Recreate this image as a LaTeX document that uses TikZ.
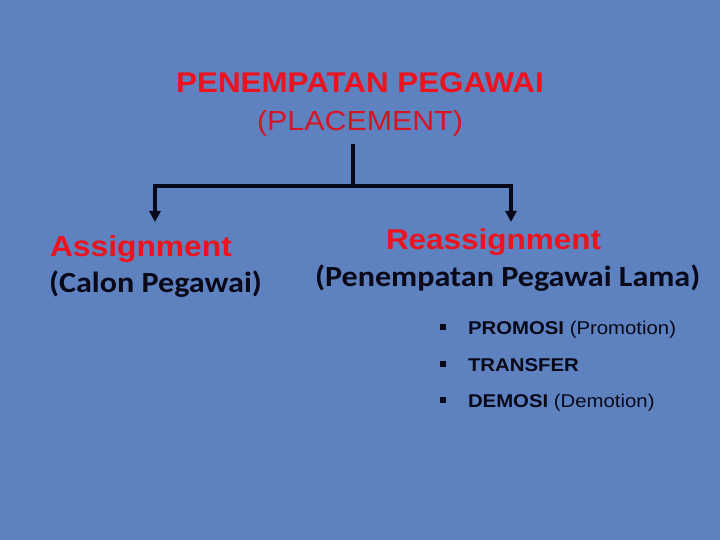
\documentclass[tikz,border=0pt]{standalone}
\usepackage{fontspec}
\usepackage{graphicx}
\setmainfont{Liberation Sans}
\newfontfamily\calibri{Carlito}
\usetikzlibrary{arrows.meta}
\definecolor{bgblue}{RGB}{94,130,192}
\definecolor{titlered}{RGB}{236,18,30}
\definecolor{ink}{RGB}{8,8,24}
\newcommand\sx[1]{\scalebox{1.1}[1]{#1}}
\tikzset{
  txt/.style={inner sep=0pt, outer sep=0pt},
  redbig/.style={txt, text=titlered, font=\fontsize{28}{32}\selectfont\bfseries},
  blackbig/.style={txt, text=ink, font=\calibri\fontsize{29.2}{33}\selectfont\bfseries},
  item/.style={txt, text=ink, font=\fontsize{18.5}{22}\selectfont},
  bul/.style={fill=ink, minimum size=5.5pt, inner sep=0pt, outer sep=0pt},
  conn/.style={line width=3.5pt, draw=ink},
  arr/.style={conn, -{Triangle[length=11pt,width=11pt]}}
}
\begin{document}
\begin{tikzpicture}[x=1pt,y=-1pt]
\fill[bgblue] (0,0) rectangle (720,540);
\useasboundingbox (0,0) rectangle (720,540);
% title
\node[redbig, font=\fontsize{28.5}{32}\selectfont\bfseries, anchor=base] (title) at (360,93) {\sx{PENEMPATAN PEGAWAI}};
\node[redbig, font=\fontsize{27.6}{32}\selectfont, text={rgb,255:red,214;green,20;blue,34}, anchor=base] (place) at (360,131) {\sx{(PLACEMENT)}};
% connectors
\coordinate (top) at (353,144);
\coordinate (mid) at (353,186);
\coordinate (left) at (155,186);
\coordinate (right) at (511,186);
\coordinate (ltip) at (155,222);
\coordinate (rtip) at (511,222);
\draw[conn] (top) -- (mid);
\draw[conn, line cap=rect] (left) -- (right);
\draw[arr] (left) -- (ltip);
\draw[arr] (right) -- (rtip);
% left branch
\node[redbig, font=\fontsize{28.9}{32}\selectfont\bfseries, anchor=base west] (assign) at (50,256) {\sx{Assignment}};
\node[blackbig, anchor=base west] (calon) at (49,292) {\sx{(Calon Pegawai)}};
% right branch
\node[redbig, font=\fontsize{28.6}{32}\selectfont\bfseries, anchor=base west] (reassign) at (386,249) {\sx{Reassignment}};
\node[blackbig, anchor=base west] (lama) at (315,286) {\sx{(Penempatan Pegawai Lama)}};
% bullets
\node[bul] (b1) at (443,327) {};
\node[bul] (b2) at (443,364) {};
\node[bul] (b3) at (443,400) {};
\node[item, anchor=base west] (i1) at (468,334) {\sx{\textbf{PROMOSI} (Promotion)}};
\node[item, anchor=base west] (i2) at (468,371) {\sx{\textbf{TRANSFER}}};
\node[item, anchor=base west] (i3) at (468,407) {\sx{\textbf{DEMOSI} (Demotion)}};
\end{tikzpicture}
\end{document}
